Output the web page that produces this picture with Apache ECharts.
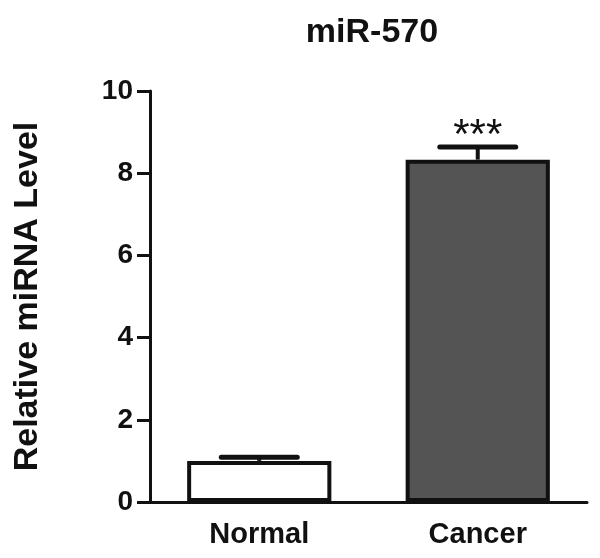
<!DOCTYPE html>
<html>
<head>
<meta charset="utf-8">
<script src="https://cdn.jsdelivr.net/npm/echarts@6/dist/echarts.min.js"></script>
<style>
html,body{margin:0;padding:0;background:#fff;}
#chart{width:600px;height:558px;}
</style>
</head>
<body>
<div id="chart"></div>
<script>
var categories = ['Normal', 'Cancer'];
var means = [1.0, 8.33];
var errors = [0.09, 0.31];
var significance = ['', '***'];
var yTicks = [0, 2, 4, 6, 8, 10];

var FONT = '"Liberation Sans", Arial, sans-serif';
var chart = echarts.init(document.getElementById('chart'));

var barColors = ['#ffffff', '#545454'];

var option = {
  backgroundColor: '#fff',
  animation: false,
  title: {
    text: 'miR-570',
    left: 367,
    textAlign: 'center',
    top: 11,
    textStyle: { fontFamily: FONT, fontWeight: 'bold', fontSize: 34, color: '#111' }
  },
  grid: { left: 150, right: 13, top: 91, bottom: 56 },
  xAxis: {
    type: 'category',
    data: categories,
    axisLine: { lineStyle: { color: '#111', width: 3 } },
    axisTick: { alignWithLabel: true, length: 13, lineStyle: { color: '#111', width: 3 } },
    axisLabel: { margin: 18, fontFamily: FONT, fontWeight: 'bold', fontSize: 29, color: '#111' }
  },
  yAxis: {
    type: 'value',
    min: yTicks[0],
    max: yTicks[yTicks.length - 1],
    interval: 2,
    name: 'Relative miRNA Level',
    nameLocation: 'middle',
    nameGap: 105,
    nameTextStyle: { fontFamily: FONT, fontWeight: 'bold', fontSize: 34, color: '#111' },
    axisLine: { show: true, lineStyle: { color: '#111', width: 3 } },
    axisTick: { show: true, length: 13, lineStyle: { color: '#111', width: 3 } },
    splitLine: { show: false },
    axisLabel: { margin: 17, fontFamily: FONT, fontWeight: 'bold', fontSize: 28, color: '#111' }
  },
  series: [
    {
      type: 'bar',
      data: means.map(function (v, i) {
        return { value: v, itemStyle: { color: barColors[i] } };
      }),
      barWidth: '66%',
      itemStyle: { borderColor: '#111', borderWidth: 4 },
      z: 2
    },
    {
      type: 'custom',
      data: means.map(function (v, i) { return [i, v, v + errors[i]]; }),
      renderItem: function (params, api) {
        var base = api.coord([api.value(0), api.value(1)]);
        var top = api.coord([api.value(0), api.value(2)]);
        var half = 38;
        var children = [
          { type: 'line', shape: { x1: base[0], y1: base[1], x2: top[0], y2: top[1] },
            style: { stroke: '#111', lineWidth: 4 } },
          { type: 'line', shape: { x1: top[0] - half, y1: top[1], x2: top[0] + half, y2: top[1] },
            style: { stroke: '#111', lineWidth: 5, lineCap: 'round' } }
        ];
        var txt = significance[params.dataIndex];
        if (txt) {
          children.push({ type: 'text', x: top[0], y: top[1] - 10,
            style: { text: txt, fill: '#111', font: 'normal 42px ' + FONT,
                     textAlign: 'center', textVerticalAlign: 'middle' } });
        }
        return { type: 'group', children: children };
      },
      z: 3
    }
  ]
};
chart.setOption(option);
</script>
</body>
</html>
